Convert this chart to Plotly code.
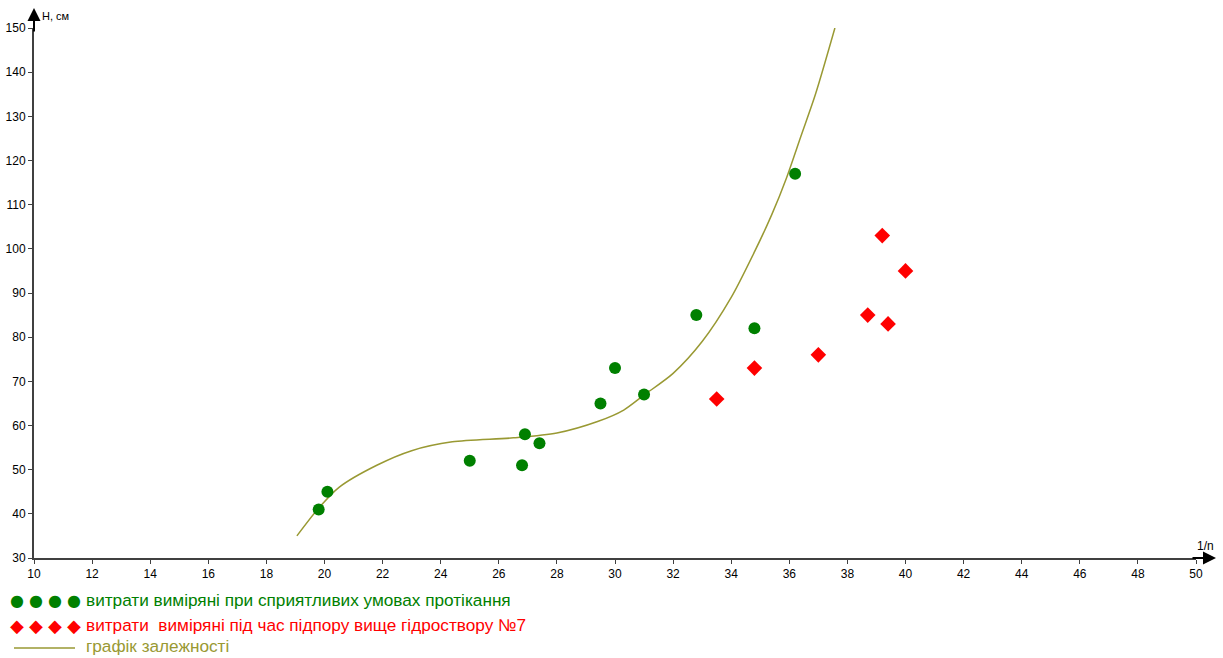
import plotly.graph_objects as go

# Data
green_x = [19.8, 20.1, 25.0, 26.8, 26.9, 27.4, 29.5, 30.0, 31.0, 32.8, 34.8, 36.2]
green_y = [41, 45, 52, 51, 58, 56, 65, 73, 67, 85, 82, 117]

red_x = [33.5, 34.8, 37.0, 38.7, 39.2, 39.4, 40.0]
red_y = [66, 73, 76, 85, 103, 83, 95]

curve_x = [19.05, 19.8, 20.5, 21.8, 23.0, 24.4, 26.5, 28.0, 29.4, 30.3, 31.0, 32.0, 33.0, 34.0, 34.8, 35.4, 35.9, 36.4, 36.9, 37.57]
curve_y = [35.0, 41.3, 46.0, 51.0, 54.3, 56.3, 57.2, 58.3, 60.9, 63.5, 66.9, 71.8, 79.0, 89.0, 99.3, 107.8, 116.0, 125.5, 135.0, 150.0]

x_ticks = list(range(10, 51, 2))
y_ticks = list(range(30, 151, 10))

GREEN = "#008000"
RED = "#FF0000"
OLIVE = "#999933"
AXIS = "#404040"
FONT = "Liberation Sans"

PW, PH = 1162, 530  # plot area size in pixels

fig = go.Figure()
fig.add_trace(go.Scatter(x=curve_x, y=curve_y, mode="lines",
                         line=dict(color=OLIVE, width=1.5, shape="spline", smoothing=0.8),
                         hoverinfo="skip", showlegend=False))
fig.add_trace(go.Scatter(x=green_x, y=green_y, mode="markers",
                         marker=dict(color=GREEN, size=12, symbol="circle"), showlegend=False))
fig.add_trace(go.Scatter(x=red_x, y=red_y, mode="markers",
                         marker=dict(color=RED, size=12, symbol="diamond"), showlegend=False))

axis_common = dict(showgrid=False, zeroline=False, showline=True, linecolor=AXIS, linewidth=2,
                   ticks="outside", ticklen=4, tickcolor=AXIS, tickwidth=1, automargin=False,
                   tickfont=dict(family=FONT, size=12, color="black"))

fig.update_xaxes(range=[10, 50], tickvals=x_ticks, ticktext=[str(v) for v in x_ticks], **axis_common)
fig.update_yaxes(range=[30, 150], tickvals=y_ticks, ticktext=[str(v) for v in y_ticks], **axis_common)

# Axis arrow extensions
fig.add_annotation(xref="paper", yref="paper", x=0, y=1 + 20 / PH, ax=0, ay=25,
                   showarrow=True, arrowhead=2, arrowsize=1.3, arrowwidth=2, arrowcolor="black", text="")
fig.add_annotation(xref="paper", yref="paper", x=1 + 20 / PW, y=0, ax=-25, ay=0,
                   showarrow=True, arrowhead=2, arrowsize=1.3, arrowwidth=2, arrowcolor="black", text="")
fig.add_annotation(xref="paper", yref="paper", x=0, y=1 + 12 / PH, xanchor="left", yanchor="middle",
                   xshift=6, text="H, см", showarrow=False, font=dict(family=FONT, size=11, color="black"))
fig.add_annotation(xref="paper", yref="paper", x=1, y=0, xanchor="left", yanchor="bottom",
                   xshift=-1, yshift=3, text="1/n", showarrow=False, font=dict(family=FONT, size=12, color="black"))

# Legend (custom, below the plot)
legend_font = 17.2
for i in range(4):
    cx = (17 + 19 * i - 34) / PW
    fig.add_annotation(xref="paper", yref="paper", x=cx, y=-42 / PH, xanchor="center", yanchor="middle",
                       text="●", showarrow=False, font=dict(family="DejaVu Sans", size=16, color=GREEN))
    fig.add_annotation(xref="paper", yref="paper", x=cx, y=-67 / PH, xanchor="center", yanchor="middle",
                       text="◆", showarrow=False, font=dict(family="DejaVu Sans", size=18, color=RED))
fig.add_annotation(xref="paper", yref="paper", x=50 / PW, y=-42 / PH, xanchor="left", yanchor="middle",
                   text="витрати виміряні при сприятливих умовах протікання", showarrow=False,
                   font=dict(family=FONT, size=legend_font, color=GREEN))
fig.add_annotation(xref="paper", yref="paper", x=50 / PW, y=-67 / PH, xanchor="left", yanchor="middle",
                   text="витрати&nbsp;&nbsp;виміряні під час підпору вище гідроствору №7", showarrow=False,
                   font=dict(family=FONT, size=legend_font, color=RED))
fig.add_shape(type="line", xref="paper", yref="paper", x0=-20 / PW, x1=41 / PW,
              y0=-90 / PH, y1=-90 / PH, line=dict(color=OLIVE, width=1.5))
fig.add_annotation(xref="paper", yref="paper", x=50 / PW, y=-88 / PH, xanchor="left", yanchor="middle",
                   text="графік залежності", showarrow=False,
                   font=dict(family=FONT, size=legend_font, color=OLIVE))

fig.update_layout(width=1223, height=658, margin=dict(l=34, r=27, t=28, b=100),
                  plot_bgcolor="white", paper_bgcolor="white", showlegend=False)

# remove the default page margin so the figure sits at the window's top-left corner
fig.write_html("out.html", config={"displayModeBar": False},
               post_script="document.body.style.margin='0';")
